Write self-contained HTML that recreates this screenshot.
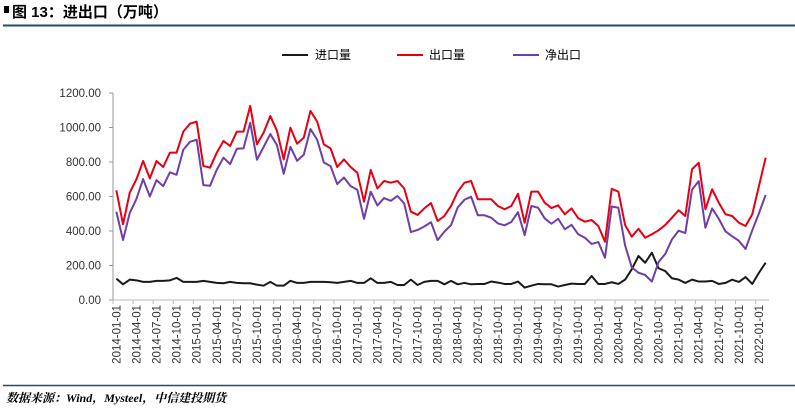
<!DOCTYPE html>
<html><head><meta charset="utf-8">
<style>
body{margin:0;background:#fff;width:795px;height:408px;overflow:hidden;font-family:"Liberation Sans","Noto Sans CJK SC",sans-serif;}
svg{display:block}
</style></head>
<body>
<svg id="chart" width="795" height="408" xmlns="http://www.w3.org/2000/svg">
<rect x="4" y="6" width="5" height="7" fill="#000"/>
<text x="12" y="17" font-size="15" font-weight="bold" font-family="'Liberation Sans','Noto Sans CJK SC',sans-serif">图 13：进出口（万吨）</text>
<line x1="3" y1="25.5" x2="795" y2="25.5" stroke="#1f4e6e" stroke-width="2"/>
<g>
<g><line x1="282" y1="55" x2="308" y2="55" stroke="#1a1a1a" stroke-width="2"/><text x="315" y="59" font-size="12">进口量</text></g>
<g><line x1="397" y1="55" x2="423" y2="55" stroke="#e60012" stroke-width="2"/><text x="429" y="59" font-size="12">出口量</text></g>
<g><line x1="513" y1="55" x2="539" y2="55" stroke="#6f3fa6" stroke-width="2"/><text x="545" y="59" font-size="12">净出口</text></g>
</g>
<g id="axes"></g>
<g id="series"></g>
<line x1="3" y1="385.5" x2="795" y2="385.5" stroke="#1f4e6e" stroke-width="1.5"/>
<text x="6" y="402" font-size="12" font-weight="bold" font-style="italic" font-family="'Liberation Serif','Noto Serif CJK SC',serif">数据来源：Wind，Mysteel，中信建投期货</text>
</svg>
<script>
const startYear = 2014;
const monthCount = 98;
const yTicks = [0,200,400,600,800,1000,1200];
const exportsData = [636,439,622,700,806,705,806,771,854,854,976,1022,1034,777,767,854,922,893,976,976,1125,902,970,1067,980,815,999,906,941,1096,1034,902,879,771,815,771,738,570,754,647,690,680,690,647,512,493,531,562,458,487,545,628,680,690,584,584,584,545,526,545,616,448,628,628,564,533,549,497,531,474,454,464,429,338,645,628,435,367,413,361,381,404,435,477,520,487,758,796,526,642,564,497,487,448,429,497,661,825];
const importsData = [124,91,118,114,105,105,111,111,114,128,105,105,105,111,105,99,97,105,99,97,97,89,83,105,83,83,111,99,99,105,105,105,103,99,105,111,99,99,126,99,99,105,87,87,118,87,105,111,111,91,111,91,99,91,93,93,107,101,93,93,107,72,83,93,91,91,78,87,95,93,93,139,93,93,103,93,118,178,255,216,274,184,168,126,118,99,118,107,107,111,93,99,118,105,133,93,158,216];
const netData = exportsData.map((v,i)=>v-importsData[i]);

const NS="http://www.w3.org/2000/svg";
const left=113,right=769,y0=300,yMax=1200,plotH=207;
const bw=(right-left)/monthCount;
const xPos=i=>left+(i+0.5)*bw;
const yPos=v=>y0-v/yMax*plotH;
function mk(tag,attrs,parent){const e=document.createElementNS(NS,tag);for(const k in attrs)e.setAttribute(k,attrs[k]);parent.appendChild(e);return e;}
const axes=document.getElementById('axes');
const yAxis=mk('line',{x1:left,y1:yPos(yMax),x2:left,y2:y0,stroke:'#999','stroke-width':1},axes);


const xAxis=mk('line',{x1:left,y1:y0,x2:right,y2:y0,stroke:'#bbb','stroke-width':1},axes);


yTicks.forEach(v=>{
  mk('line',{x1:left-4,y1:yPos(v),x2:left,y2:yPos(v),stroke:'#999'},axes);
  const t=mk('text',{x:left-12,y:yPos(v)+4,'font-size':11.5,'text-anchor':'end',fill:'#333'},axes);
  t.textContent=v.toFixed(2);
  
  
});
for(let i=0;i<=monthCount;i+=3){
  mk('line',{x1:left+i*bw,y1:y0,x2:left+i*bw,y2:y0+4,stroke:'#bbb'},axes);
}
for(let i=0;i<monthCount;i+=3){
  const yr=startYear+Math.floor(i/12),m=i%12+1;
  const lbl=yr+'-'+String(m).padStart(2,'0')+'-01';
  const x=xPos(i)+4;
  const t=mk('text',{x:x,y:305,'font-size':11.5,'text-anchor':'end',fill:'#333',transform:`rotate(-90 ${x} 305)`},axes);
  t.textContent=lbl;
  
  
}
const ser=document.getElementById('series');
function line(data,color,name){
  const p=mk('polyline',{points:data.map((v,i)=>xPos(i)+','+yPos(v)).join(' '),fill:'none',stroke:color,'stroke-width':2,'stroke-linejoin':'round'},ser);
  
  
}
line(importsData,'#1a1a1a','imports-line');
line(exportsData,'#e60012','exports-line');
line(netData,'#6f3fa6','net-exports-line');
</script>
</body></html>
